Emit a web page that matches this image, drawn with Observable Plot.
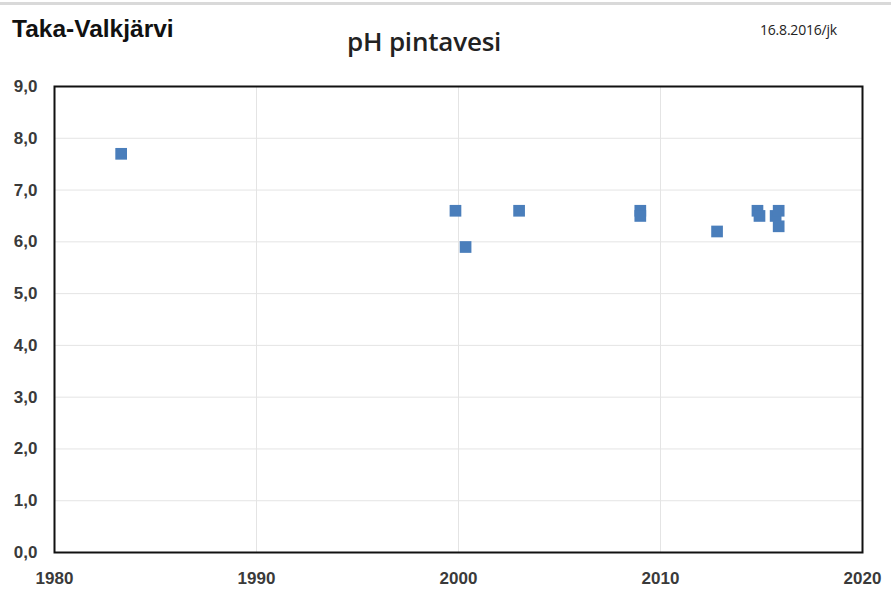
<!DOCTYPE html>
<html>
<head>
<meta charset="utf-8">
<script src="https://cdn.jsdelivr.net/npm/d3@7"></script>
<script src="https://cdn.jsdelivr.net/npm/@observablehq/plot@0.6"></script>
<style>
  html, body { margin: 0; padding: 0; background: #fff; }
  #wrap { position: relative; width: 891px; height: 592px; overflow: hidden; }
  #topline { position: absolute; left: 0; top: 2px; width: 891px; height: 3px; background: #d9d9d9; }
  .t { position: absolute; color: #111; white-space: nowrap; line-height: 1; }
  #title { left: 12px; top: 17px; font-family: "Liberation Sans", Arial, sans-serif; font-size: 24.5px; font-weight: 700; }
  #sub { left: 347px; top: 28px; font-family: "Open Sans", sans-serif; font-size: 26px; font-weight: 600; letter-spacing: -0.2px; color: #222; }
  #date { left: 760px; top: 23px; font-family: "Open Sans", sans-serif; font-size: 14px; letter-spacing: -0.2px; color: #222; }
  svg { position: absolute; left: 0; top: 0; }
</style>
</head>
<body>
<div id="wrap">
  <div id="topline"></div>
  <div id="chart"></div>
  <div class="t" id="title">Taka-Valkjärvi</div>
  <div class="t" id="sub">pH pintavesi</div>
  <div class="t" id="date">16.8.2016/jk</div>
</div>
<script>
const years = [1983.3, 1999.85, 2000.35, 2003.0, 2009.0, 2009.0, 2012.8, 2014.8, 2014.9, 2015.7, 2015.85, 2015.85];
const ph    = [7.7,    6.6,     5.9,     6.6,    6.6,    6.5,    6.2,    6.6,    6.5,    6.5,    6.6,     6.3];
const xTicks = [1980, 1990, 2000, 2010, 2020];
const yTicks = [0, 1, 2, 3, 4, 5, 6, 7, 8, 9];

const data = years.map((y, i) => ({year: y, ph: ph[i]}));
const fmtY = d => d.toFixed(1).replace(".", ",");

const chart = Plot.plot({
  width: 891,
  height: 592,
  marginTop: 86,
  marginLeft: 54,
  marginRight: 29,
  marginBottom: 40,
  style: {fontFamily: "'Liberation Sans Narrow', 'Liberation Sans', Arial, sans-serif", fontSize: "17px", fontWeight: "bold", color: "#3a3a3a", background: "transparent"},
  x: {domain: [1980, 2020], ticks: xTicks, tickFormat: d => String(d)},
  y: {domain: [0, 9], ticks: yTicks, tickFormat: fmtY},
  marks: [
    Plot.gridX(xTicks.slice(1, -1), {stroke: "#e4e4e4", strokeOpacity: 1}),
    Plot.gridY(yTicks.slice(1, -1), {stroke: "#e4e4e4", strokeOpacity: 1}),
    Plot.axisX({ticks: xTicks, tickSize: 0, tickPadding: 19, tickFormat: d => String(d), label: null}),
    Plot.axisY({ticks: yTicks, tickSize: 0, tickPadding: 17, tickFormat: fmtY, label: null}),
    Plot.frame({stroke: "#111", strokeWidth: 2}),
    Plot.dot(data, {x: "year", y: "ph", symbol: "square", r: 6.6, fill: "#4a7ebb", stroke: "none"})
  ]
});
document.getElementById("chart").appendChild(chart);
</script>
</body>
</html>
